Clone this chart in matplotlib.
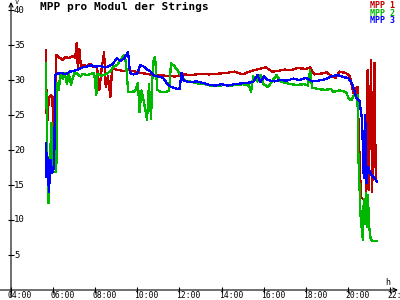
import numpy as np
import matplotlib
matplotlib.use("Agg")
import matplotlib.pyplot as plt

# MPP voltages per string, time in hours, values in V
t_mpp1 = [5.66, 5.70, 5.80, 5.90, 5.97, 6.02, 6.15, 6.30, 6.45, 6.60, 6.75, 6.90, 7.05,
          7.12, 7.17, 7.25, 7.32, 7.42, 7.60, 7.75, 7.90, 8.08, 8.20, 8.30, 8.42, 8.50,
          8.60, 8.72, 8.80, 9.00, 9.30, 9.60, 9.90, 10.2, 10.6, 11.0, 11.4, 11.8, 12.2,
          12.6, 13.0, 13.4, 13.8, 14.2, 14.6, 15.0, 15.4, 15.8, 16.1, 16.4, 16.7, 17.0,
          17.3, 17.6, 18.0, 18.2, 18.4, 18.7, 19.0, 19.2, 19.4, 19.6, 19.9, 20.1, 20.25,
          20.45, 20.55, 20.62, 20.85, 20.93, 20.98, 21.10, 21.15, 21.26, 21.32]
v_mpp1 = [34.3, 22.9, 27.5, 27.8, 27.6, 17.4, 33.6, 33.2, 32.9, 33.3, 33.1, 33.4, 33.2,
          35.3, 31.9, 34.4, 31.8, 32.2, 32.0, 32.3, 31.9, 32.0, 28.6, 31.5, 34.0, 29.0,
          30.5, 27.6, 31.7, 31.5, 31.3, 31.4, 31.2, 31.0, 30.8, 30.7, 30.6, 30.5, 30.8,
          30.7, 30.9, 30.8, 30.9, 31.0, 31.2, 30.8, 31.3, 31.6, 31.8, 31.2, 31.3, 31.5,
          31.4, 31.7, 31.6, 31.8, 30.8, 30.9, 31.1, 30.6, 30.3, 31.2, 31.0, 30.5, 28.2,
          29.0, 19.0, 13.2, 12.8, 31.4, 14.3, 32.9, 14.0, 32.4, 15.7]

t_mpp2 = [5.66, 5.72, 5.78, 5.85, 5.92, 5.98, 6.10, 6.15, 6.20, 6.28, 6.33, 6.45, 6.55,
          6.65, 6.75, 6.85, 7.00, 7.15, 7.30, 7.42, 7.60, 7.80, 7.95, 8.05, 8.10, 8.30,
          8.50, 8.70, 8.90, 9.03, 9.18, 9.32, 9.41, 9.50, 9.56, 9.70, 9.90, 10.03, 10.1,
          10.2, 10.3, 10.46, 10.55, 10.65, 10.74, 10.84, 10.95, 11.1, 11.3, 11.5, 11.6,
          11.75, 11.88, 12.0, 12.1, 12.3, 12.6, 12.9, 13.2, 13.5, 13.8, 14.1, 14.4, 14.7,
          15.0, 15.3, 15.4, 15.5, 15.7, 15.85, 16.0, 16.2, 16.4, 16.6, 16.8, 17.0, 17.3,
          17.6, 17.9, 18.1, 18.2, 18.3, 18.6, 18.9, 19.2, 19.3, 19.6, 19.9, 20.05, 20.15,
          20.3, 20.45, 20.5, 20.6, 20.71, 20.75, 20.8, 20.85, 20.9, 20.95, 21.0, 21.08,
          21.15, 21.38]
v_mpp2 = [32.4, 20.0, 12.4, 18.6, 23.9, 16.9, 16.9, 16.9, 29.6, 28.6, 31.0, 30.2, 31.0,
          29.5, 30.8, 29.3, 31.0, 30.9, 30.5, 30.9, 30.7, 30.9, 31.0, 27.8, 30.9, 30.6,
          30.8, 31.2, 32.0, 32.1, 32.8, 33.4, 33.6, 31.0, 28.3, 28.3, 28.4, 29.6, 25.4,
          28.5, 27.0, 24.3, 29.4, 24.5, 32.6, 33.3, 28.6, 28.3, 28.3, 28.4, 32.4,
          32.0, 31.5, 31.0, 30.4, 29.9, 29.7, 29.5, 29.4, 29.2, 29.1, 29.3, 29.2, 29.3,
          29.4, 29.2, 28.3, 30.5, 29.8, 30.7, 29.4, 29.0, 29.8, 30.7, 29.8, 29.6, 29.4,
          29.3, 29.4, 29.2, 31.4, 28.9, 28.7, 28.6, 28.7, 28.3, 28.5, 28.3, 27.3, 27.1,
          27.9, 27.9, 18.6, 10.5, 7.1, 13.0, 9.5, 13.9, 9.0, 13.5, 9.2, 7.2,
          7.0, 7.0]

t_mpp3 = [5.66, 5.68, 5.72, 5.80, 5.88, 5.95, 6.05, 6.10, 6.20, 6.40, 6.60, 6.80, 7.00,
          7.20, 7.40, 7.60, 7.80, 8.00, 8.20, 8.50, 8.80, 9.03, 9.20, 9.40, 9.56, 9.65,
          9.80, 10.0, 10.13, 10.27, 10.45, 10.6, 10.8, 11.0, 11.22, 11.41, 11.6, 11.8,
          12.0, 12.1, 12.2, 12.5, 12.8, 13.1, 13.4, 13.7, 14.0, 14.3, 14.6, 14.9, 15.2,
          15.5, 15.7, 15.85, 16.0, 16.2, 16.5, 16.8, 17.1, 17.4, 17.7, 18.0, 18.3, 18.6,
          18.9, 19.2, 19.5, 19.8, 20.0, 20.2, 20.4, 20.55, 20.67, 20.75, 20.82, 20.88,
          20.95, 21.1, 21.25, 21.38]
v_mpp3 = [21.0, 16.1, 19.5, 14.0, 18.6, 16.7, 17.5, 30.7, 30.9, 31.0, 30.8, 31.2, 31.3,
          31.5, 31.8, 31.9, 32.1, 31.9, 32.0, 31.8, 32.2, 33.1, 32.7, 33.2, 34.0, 31.0,
          30.8, 30.9, 32.1, 32.0, 31.5, 31.3, 30.6, 30.5, 30.3, 29.5, 29.0, 28.8,
          28.7, 31.0, 29.9, 29.7, 29.8, 29.6, 29.3, 29.2, 29.4, 29.2, 29.4, 29.5, 29.6,
          29.7, 30.7, 29.7, 30.5, 30.0, 29.8, 30.0, 29.9, 30.2, 30.0, 30.3, 29.8, 29.9,
          30.1, 30.5, 30.7, 30.4, 30.3, 29.5, 27.5, 27.0, 24.3, 16.0, 25.0, 15.3,
          17.6, 16.5, 16.0, 15.5]

series_names = ["MPP 1", "MPP 2", "MPP 3"]
colors = ["#c00000", "#00b800", "#0000ff"]

yticks = [5, 10, 15, 20, 25, 30, 35, 40]
xticks = [4, 6, 8, 10, 12, 14, 16, 18, 20, 22]
xlabels = ["04:00", "06:00", "08:00", "10:00", "12:00", "14:00", "16:00", "18:00", "20:00", "22:00"]

plt.rcParams['font.family'] = 'DejaVu Sans Mono'

px_h = 21.06   # pixels per hour
px_v = 7.0     # pixels per volt

fig = plt.figure(figsize=(4, 3), dpi=100)
ax = fig.add_axes([0, 0, 1, 1])
x0 = 4 - 11 / px_h
ax.set_xlim(x0, x0 + 400 / px_h)
ax.set_ylim(-10 / px_v, 290 / px_v)
ax.axis('off')

for t, v, c in zip([t_mpp1, t_mpp2, t_mpp3], [v_mpp1, v_mpp2, v_mpp3], colors):
    ax.plot(t, v, color=c, lw=0.9, antialiased=False, zorder=3)

# axes with arrows
arr = dict(arrowstyle='->', lw=0.8, color='black', shrinkA=0, shrinkB=0,
           mutation_scale=7)
ax.annotate('', xy=(x0 + 398 / px_h, 0), xytext=(x0, 0), arrowprops=arr)
ax.annotate('', xy=(4, 288 / px_v), xytext=(4, -7 / px_v), arrowprops=arr)

# tick marks
ax.plot(np.full(len(yticks), 4.0), yticks, ls='none', marker='_', ms=5, mew=0.8, color='black')
ax.plot(xticks, np.zeros(len(xticks)), ls='none', marker='|', ms=5, mew=0.8, color='black')

for y in yticks:
    ax.text(4 + 3 / px_h, y, str(y), ha='left', va='center', fontsize=6.5)
for x, lab in zip(xticks, xlabels):
    ax.text(x - 3 / px_h, -9.8 / px_v, lab, ha='left', va='bottom', fontsize=5.8)

ax.text(4 + 4 / px_h, 284.5 / px_v, "V", ha='left', va='bottom', fontsize=5)
ax.text(4 + 374 / px_h, 12 / px_v, "h", ha='left', va='top', fontsize=6)

fig.text(40 / 400, 1 - 2 / 300, "MPP pro Modul der Strings", ha='left', va='top',
         fontsize=8, fontweight='bold')
for i, (name, c) in enumerate(zip(series_names, colors)):
    fig.text(395 / 400, 1 - (1 + 7.5 * i) / 300, name, ha='right', va='top',
             fontsize=6, fontweight='bold', color=c)

fig.savefig("out.png", dpi=100)
